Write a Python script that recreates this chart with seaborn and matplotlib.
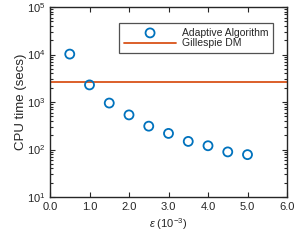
import matplotlib
matplotlib.use("Agg")
import matplotlib.pyplot as plt
import seaborn as sns
import pandas as pd
import numpy as np
from matplotlib.ticker import LogLocator, NullFormatter

eps = [0.5, 1.0, 1.5, 2.0, 2.5, 3.0, 3.5, 4.0, 4.5, 5.0]
cpu_adaptive = [10200, 2290, 950, 535, 310, 218, 148, 120, 89, 78]
cpu_gillespie = 2600
xticks = [0, 1, 2, 3, 4, 5, 6]
xticklabels = ["0.0", "1.0", "2.0", "3.0", "4.0", "5.0", "6.0"]

sns.set_style("ticks")
plt.rcParams['font.family'] = ['Liberation Sans', 'DejaVu Sans']
plt.rcParams['mathtext.fontset'] = 'custom'
plt.rcParams['mathtext.rm'] = 'Liberation Sans'
plt.rcParams['mathtext.it'] = 'Liberation Sans:italic'

fig = plt.figure(figsize=(2.98, 2.40), dpi=100)
ax = fig.add_axes([50/298, 1 - 197/240, (287-50)/298, (197-7)/240])

df = pd.DataFrame({"eps": eps, "cpu": cpu_adaptive})
sns.scatterplot(data=df, x="eps", y="cpu", ax=ax, marker="o", s=42,
                facecolor="none", edgecolor="#0072BD", linewidth=1.3,
                label="Adaptive Algorithm", zorder=3)
ax.axhline(cpu_gillespie, color="#D95319", linewidth=1.3, label="Gillespie DM", zorder=2)

ax.set_yscale("log")
ax.set_xlim(0, 6)
ax.set_ylim(10, 1e5)
ax.set_xticks(xticks)
ax.set_xticklabels(xticklabels)
ax.set_yticks([1e1, 1e2, 1e3, 1e4, 1e5])
ax.set_yticklabels([r"$10^{1}$", r"$10^{2}$", r"$10^{3}$", r"$10^{4}$", r"$10^{5}$"])
ax.yaxis.set_minor_locator(LogLocator(base=10, subs=np.arange(2, 10), numticks=20))
ax.yaxis.set_minor_formatter(NullFormatter())

ax.tick_params(axis="both", which="both", direction="in", top=True, right=True,
               labelsize=8, colors="#262626", width=0.8)
ax.tick_params(which="major", length=3.5)
ax.tick_params(which="minor", length=2)
for sp in ax.spines.values():
    sp.set_linewidth(1.0)
    sp.set_color("#262626")

ax.set_xlabel(r"$\epsilon$ (10$^{-3}$)", fontsize=8, labelpad=3)
ax.set_ylabel("CPU time (secs)", fontsize=9.5, labelpad=0)

leg = ax.legend(loc="upper right", bbox_to_anchor=(0.941, 0.916), borderaxespad=0,
                fontsize=7.5, frameon=True, fancybox=False, edgecolor="#262626",
                handlelength=5.0, borderpad=0.45, labelspacing=0.05, handletextpad=0.55)
leg.get_frame().set_linewidth(0.9)

fig.savefig("out.png", dpi=100)
